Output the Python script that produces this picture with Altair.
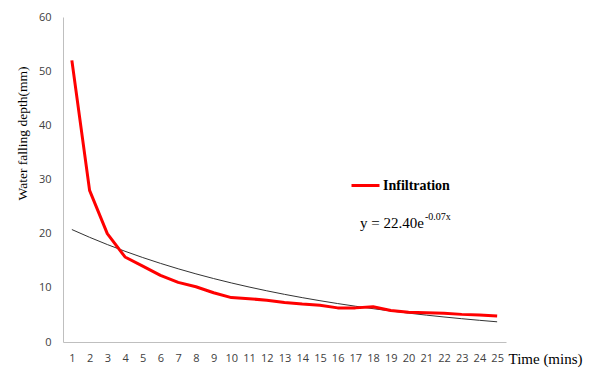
import altair as alt
import pandas as pd

# Data
minutes = list(range(1, 26))
infiltration = [52.0, 28.0, 20.0, 15.7, 14.0, 12.3, 11.0, 10.2, 9.1, 8.2,
                8.0, 7.7, 7.3, 7.0, 6.8, 6.3, 6.3, 6.5, 5.8, 5.5,
                5.4, 5.3, 5.1, 5.0, 4.8]
series_name = ["Infiltration"] * len(minutes)
x_ticks = list(range(1, 26))
y_ticks = [0, 10, 20, 30, 40, 50, 60]
equation_main = ["y = 22.40e"]
equation_sup = ["-0.07x"]

df = pd.DataFrame({"t": minutes, "d": infiltration, "s": series_name})

SERIF = "Liberation Serif"
SANS = "Open Sans"

x_enc = alt.X(
    "t:Q",
    scale=alt.Scale(domain=[0.5, 25.5], nice=False, zero=False),
    axis=alt.Axis(
        values=x_ticks, labelAngle=0, ticks=False, grid=False,
        domainColor="#bfbfbf", labelFont=SANS, labelFontSize=11,
        labelColor="#404040", labelPadding=10,
        title="Time (mins)", titleFont=SERIF, titleFontSize=15,
        titleFontWeight="normal", titleColor="#000000",
        titleX=445, titleY=16, titleAlign="left", titleBaseline="middle",
    ),
)
y_scale = alt.Scale(domain=[0, 60], nice=False)
y_axis = alt.Axis(
    values=y_ticks, ticks=False, grid=False, domainColor="#bfbfbf",
    labelFont=SANS, labelFontSize=11, labelColor="#404040", labelPadding=12,
    title="Water falling depth(mm)", titleFont=SERIF, titleFontSize=13.5,
    titleFontWeight="normal", titleColor="#000000",
    titleX=-41, titleY=116, titleAlign="center", titleBaseline="middle",
)

# Exponential trendline (least squares on log(y), as a spreadsheet does)
trend = (
    alt.Chart(df)
    .transform_calculate(ly="log(datum.d)", xly="datum.t * log(datum.d)", xx="datum.t * datum.t")
    .transform_joinaggregate(
        mx="mean(t)", mly="mean(ly)", mxly="mean(xly)", mxx="mean(xx)"
    )
    .transform_calculate(b="(datum.mxly - datum.mx * datum.mly) / (datum.mxx - datum.mx * datum.mx)")
    .transform_calculate(a="datum.mly - datum.b * datum.mx")
    .transform_calculate(fit="exp(datum.a + datum.b * datum.t)")
    .mark_line(color="#333333", strokeWidth=1, interpolate="monotone")
    .encode(x=x_enc, y=alt.Y("fit:Q", scale=y_scale, axis=y_axis))
)

line = (
    alt.Chart(df)
    .mark_line(strokeWidth=3, strokeJoin="round")
    .encode(
        x=x_enc,
        y=alt.Y("d:Q", scale=y_scale, axis=y_axis),
        color=alt.Color(
            "s:N",
            scale=alt.Scale(range=["#ff0000"]),
            legend=alt.Legend(
                title=None, orient="none", legendX=287, legendY=153,
                symbolType="stroke", symbolSize=784, symbolStrokeWidth=3,
                labelFont=SERIF, labelFontSize=14, labelFontWeight="bold",
                labelColor="#000000", labelOffset=2,
            ),
        ),
    )
)

eq1 = (
    alt.Chart(pd.DataFrame({"e": equation_main}))
    .mark_text(align="left", baseline="middle", font=SERIF, fontSize=15, color="#000000")
    .encode(text="e:N", x=alt.value(297), y=alt.value(206))
)
eq2 = (
    alt.Chart(pd.DataFrame({"e": equation_sup}))
    .mark_text(align="left", baseline="middle", font=SERIF, fontSize=10, color="#000000")
    .encode(text="e:N", x=alt.value(362), y=alt.value(200))
)

chart = (
    alt.layer(trend, line, eq1, eq2)
    .properties(
        width=443, height=325,
        autosize=alt.AutoSizeParams(type="none"),
        padding={"left": 55, "top": 9, "right": 84, "bottom": 27},
    )
    .configure_view(stroke=None)
)

chart.save("out.html", embed_options={"renderer": "svg", "actions": False})
